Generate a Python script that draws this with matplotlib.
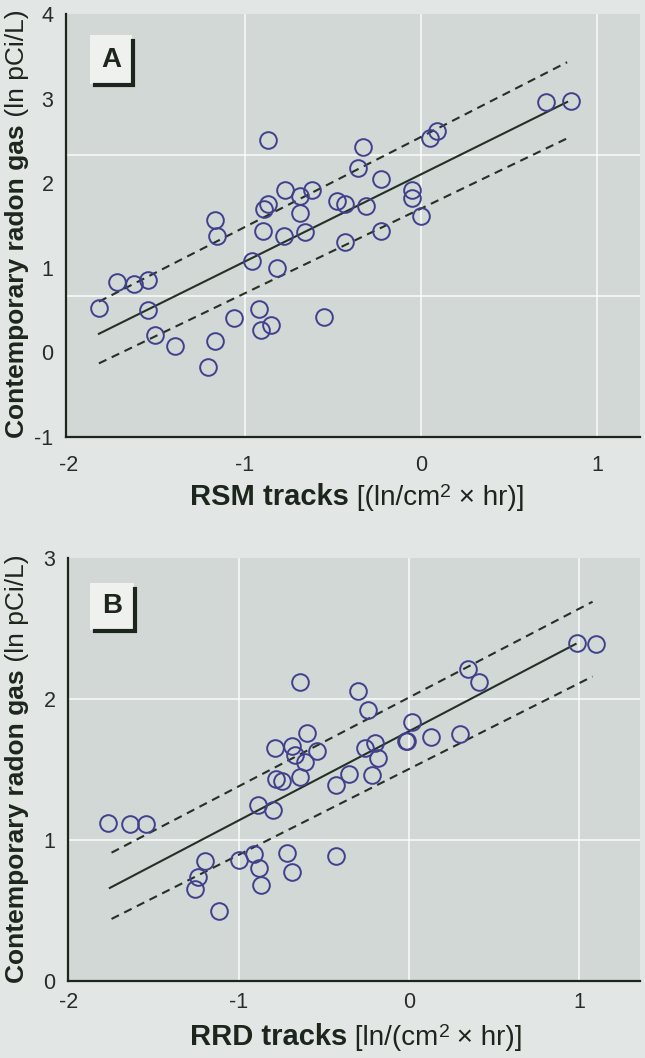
# -*- coding: utf-8 -*-

import matplotlib
matplotlib.use('Agg')
import matplotlib.pyplot as plt
from matplotlib.patches import Rectangle
from matplotlib.lines import Line2D

plt.rcParams['axes.unicode_minus'] = False
plt.rcParams['font.family'] = ['Liberation Sans', 'DejaVu Sans']

"""
DATA (read off the figure)
===============================================================================
"""
# Panel A: RSM tracks vs contemporary radon gas
rsm_x = [-1.83, -1.73, -1.63, -1.55, -1.55, -1.51, -1.40, -1.21, -1.17, -1.17,
         -1.16, -1.06, -0.96, -0.92, -0.91, -0.85, -0.90, -0.89, -0.87, -0.87,
         -0.82, -0.78, -0.77, -0.69, -0.69, -0.66, -0.62, -0.55, -0.48, -0.43,
         -0.43, -0.36, -0.33, -0.31, -0.23, -0.23, -0.05, -0.05, 0.00, 0.05,
         0.09, 0.71, 0.85]
rsm_y = [0.52, 0.83, 0.81, 0.85, 0.50, 0.21, 0.08, -0.17, 0.13, 1.57,
         1.38, 0.41, 1.08, 0.51, 0.26, 0.32, 1.44, 1.70, 1.75, 2.51,
         1.00, 1.38, 1.92, 1.85, 1.65, 1.42, 1.92, 0.42, 1.79, 1.75,
         1.30, 2.18, 2.43, 1.73, 2.05, 1.43, 1.92, 1.82, 1.61, 2.53,
         2.62, 2.96, 2.97]
rsm_fit_x = [-1.83, 0.83]
rsm_fit = [0.22, 2.96]
rsm_upper = [0.60, 3.43]
rsm_lower = [-0.13, 2.53]

# Panel B: RRD tracks vs contemporary radon gas
rrd_x = [-1.77, -1.64, -1.55, -1.26, -1.24, -1.20, -1.12, -1.00, -0.91, -0.88,
         -0.87, -0.89, -0.80, -0.79, -0.78, -0.75, -0.72, -0.69, -0.69, -0.67,
         -0.64, -0.64, -0.61, -0.60, -0.54, -0.43, -0.43, -0.35, -0.30, -0.26,
         -0.24, -0.22, -0.20, -0.18, -0.02, -0.01, 0.02, 0.13, 0.30, 0.35,
         0.41, 0.99, 1.10]
rrd_y = [1.12, 1.11, 1.11, 0.65, 0.74, 0.85, 0.50, 0.86, 0.90, 0.80,
         0.68, 1.25, 1.21, 1.65, 1.43, 1.42, 0.91, 1.67, 0.77, 1.60,
         1.45, 2.12, 1.55, 1.76, 1.63, 1.39, 0.89, 1.47, 2.06, 1.65,
         1.92, 1.46, 1.69, 1.58, 1.70, 1.70, 1.84, 1.73, 1.75, 2.21,
         2.12, 2.40, 2.39]
rrd_fit_x = [-1.76, 0.98]
rrd_fit = [0.66, 2.39]
rrd_band_x = [-1.75, 1.08]
rrd_upper = [0.91, 2.69]
rrd_lower = [0.44, 2.16]

W, H = 645, 1058
FIG_BG = '#e2e7e5'
AX_BG = '#d1d8d6'
INK = '#1c261c'
MARK = '#41408c'


def px_rect(l, t, r, b):
    """figure-fraction rect from pixel box (origin top-left)"""
    return [l / W, 1 - b / H, (r - l) / W, (b - t) / H]


def pieces_label(fig, x0, y0, pieces, vertical=False):
    """draw a label made of several pieces with mixed weight/size"""
    renderer = fig.canvas.get_renderer()
    pos = 0.0
    for s, kw, lift in pieces:
        if vertical:
            t = fig.text((x0 - lift) / W, 1 - (y0 - pos) / H, s, rotation=90,
                         rotation_mode='anchor', ha='left', va='baseline',
                         color=INK, **kw)
            pos += t.get_window_extent(renderer).height
        else:
            t = fig.text((x0 + pos) / W, 1 - (y0 - lift) / H, s,
                         ha='left', va='baseline', color=INK, **kw)
            pos += t.get_window_extent(renderer).width


def panel_tag(fig, letter, box, lx, ly):
    l, t, r, b = box
    fig.add_artist(Rectangle((l / W, 1 - b / H), (r - l) / W, (b - t) / H,
                             transform=fig.transFigure, facecolor='#eef1ee',
                             edgecolor='none'))
    fig.add_artist(Line2D([(l + 5) / W, (r + 1) / W, (r + 1) / W],
                          [1 - (b + 1) / H, 1 - (b + 1) / H, 1 - (t + 6) / H],
                          transform=fig.transFigure, color=INK, lw=3.0,
                          solid_joinstyle='miter'))
    fig.text(lx / W, 1 - ly / H, letter, ha='center', va='center',
             fontsize=20, fontweight='bold', color=INK)


def style_axes(ax, xlim, ylim, yticks, hgrid, xpad):
    ax.set_facecolor(AX_BG)
    ax.set_xlim(xlim)
    ax.set_ylim(ylim)
    ax.set_xticks([-2, -1, 0, 1])
    ax.set_yticks(yticks)
    for s in ['top', 'right']:
        ax.spines[s].set_visible(False)
    for s in ['left', 'bottom']:
        ax.spines[s].set_color(INK)
        ax.spines[s].set_linewidth(1.6)
    ax.tick_params(axis='both', length=0, labelsize=15.5, colors='#2b2b2b')
    ax.tick_params(axis='y', pad=9)
    ax.tick_params(axis='x', pad=xpad)
    for lab in ax.get_xticklabels() + ax.get_yticklabels():
        lab.set_family(['Liberation Sans Narrow', 'Liberation Sans'])
    for v in hgrid:
        ax.axhline(v, color='white', lw=1.2, alpha=0.85, zorder=0.5)
    for v in [-1, 0, 1]:
        ax.axvline(v, color='white', lw=1.2, alpha=0.85, zorder=0.5)


"""
FIGURE
===============================================================================
"""
fig = plt.figure(figsize=(W / 100, H / 100), dpi=100)
fig.patch.set_facecolor(FIG_BG)

# ---- panel A
ax1 = fig.add_axes(px_rect(66, 14, 640, 437))
style_axes(ax1, (-2.017, 1.244), (-1, 4), [-1, 0, 1, 2, 3, 4],
           [-1 + 5 / 3, -1 + 10 / 3], 13)
ax1.plot(rsm_fit_x, rsm_fit, color='#263026', lw=1.5, zorder=2)
ax1.plot(rsm_fit_x, rsm_upper, color='#263026', lw=1.5,
         linestyle=(0, (4, 2.8)), zorder=2)
ax1.plot(rsm_fit_x, rsm_lower, color='#263026', lw=1.5,
         linestyle=(0, (4, 2.8)), zorder=2)
ax1.plot(rsm_x, rsm_y, linestyle='none', marker='o', ms=12,
         markerfacecolor='none', markeredgecolor=MARK, markeredgewidth=1.4,
         zorder=3)

# ---- panel B
ax2 = fig.add_axes(px_rect(68, 558, 640, 981))
style_axes(ax2, (-2.006, 1.359), (0, 3), [0, 1, 2, 3], [1, 2], 8)
ax2.plot(rrd_fit_x, rrd_fit, color='#263026', lw=1.5, zorder=2)
ax2.plot(rrd_band_x, rrd_upper, color='#263026', lw=1.5,
         linestyle=(0, (4, 2.8)), zorder=2)
ax2.plot(rrd_band_x, rrd_lower, color='#263026', lw=1.5,
         linestyle=(0, (4, 2.8)), zorder=2)
ax2.plot(rrd_x, rrd_y, linestyle='none', marker='o', ms=12,
         markerfacecolor='none', markeredgecolor=MARK, markeredgewidth=1.4,
         zorder=3)

# ---- labels
bold = dict(fontsize=19, fontweight='bold')
reg = dict(fontsize=19)
pieces_label(fig, 24, 438, [('Contemporary radon gas', bold, 0),
                            (' (ln pCi/L)', reg, 0)], vertical=True)
pieces_label(fig, 24, 983, [('Contemporary radon gas', bold, 0),
                            (' (ln pCi/L)', reg, 0)], vertical=True)

xb = dict(fontsize=21, fontweight='bold')
xr = dict(fontsize=20)
xs = dict(fontsize=14)
pieces_label(fig, 190, 505, [('RSM tracks', xb, 0), (' [(ln/cm', xr, 0),
                             ('2', xs, 8), (' \u00d7 hr)]', xr, 0)])
pieces_label(fig, 190, 1045, [('RRD tracks', xb, 0), (' [ln/(cm', xr, 0),
                              ('2', xs, 8), (' \u00d7 hr)]', xr, 0)])

# ---- panel tags
panel_tag(fig, 'A', (90, 35, 132, 84), 111, 60)
panel_tag(fig, 'B', (90, 583, 134, 630), 112, 606)

fig.savefig('out.png', dpi=100, facecolor=FIG_BG)
